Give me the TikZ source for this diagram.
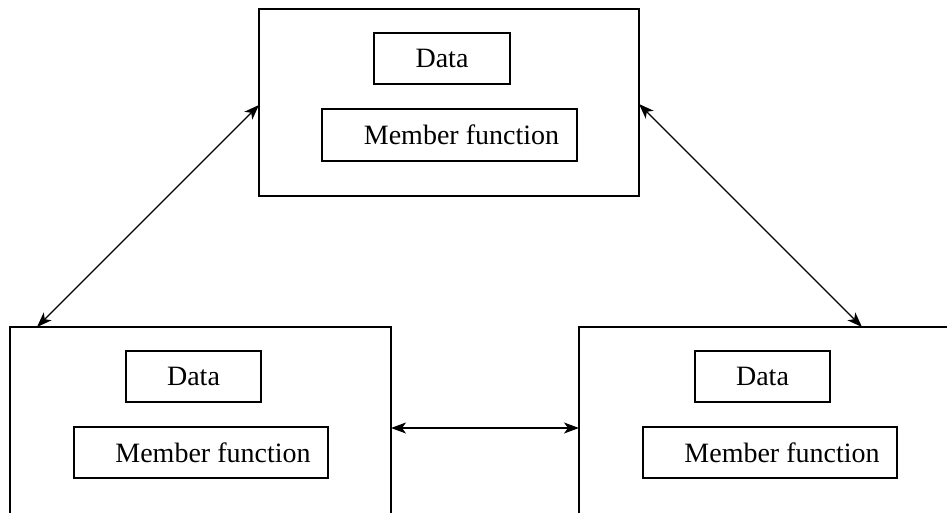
\documentclass[tikz,border=0pt]{standalone}
\usepackage{fontspec}
\setmainfont{Liberation Serif}
\usetikzlibrary{arrows.meta}
\tikzset{
  bigbox/.style={draw, line width=1.6pt, rectangle, anchor=north west, inner sep=0pt, outer sep=0pt},
  smallbox/.style={draw, line width=1.6pt, rectangle, anchor=north west, inner sep=0pt, outer sep=0pt, font=\fontsize{28}{32}\selectfont},
  link/.style={line width=1.1pt, {Stealth[length=15pt,width=11pt,inset=4pt]}-{Stealth[length=15pt,width=11pt,inset=4pt]}}
}
\begin{document}
\begin{tikzpicture}[x=1pt,y=-1pt]
\useasboundingbox (0,0) rectangle (947,512);
\clip (0,0) rectangle (947,512);
% big boxes
\node[bigbox, minimum width=380pt, minimum height=187pt] (top) at (259,9) {};
\node[bigbox, minimum width=381pt, minimum height=240pt] (lbox) at (10,327) {};
\node[bigbox, minimum width=420pt, minimum height=240pt] (rbox) at (579,327) {};
% inner boxes
\node[smallbox, minimum width=136pt, minimum height=51pt] (tdata) at (374,33) {Data};
\node[smallbox, minimum width=255pt, minimum height=52pt] (tmem) at (322,109) {\hspace*{24pt}Member function};
\node[smallbox, minimum width=135pt, minimum height=51pt] (ldata) at (126,351) {Data};
\node[smallbox, minimum width=254pt, minimum height=51pt] (lmem) at (74,427) {\hspace*{24pt}Member function};
\node[smallbox, minimum width=135pt, minimum height=51pt] (rdata) at (695,351) {Data};
\node[smallbox, minimum width=254pt, minimum height=51pt] (rmem) at (643,427) {\hspace*{24pt}Member function};
% connectors
\draw[link] ([yshift=-96pt]top.north west) -- ([xshift=27pt]lbox.north west);
\draw[link] ([yshift=-95pt]top.north east) -- ([xshift=283pt]rbox.north west);
\draw[link] ([yshift=-101pt]lbox.north east) -- ([yshift=-101pt]rbox.north west);
\end{tikzpicture}
\end{document}
